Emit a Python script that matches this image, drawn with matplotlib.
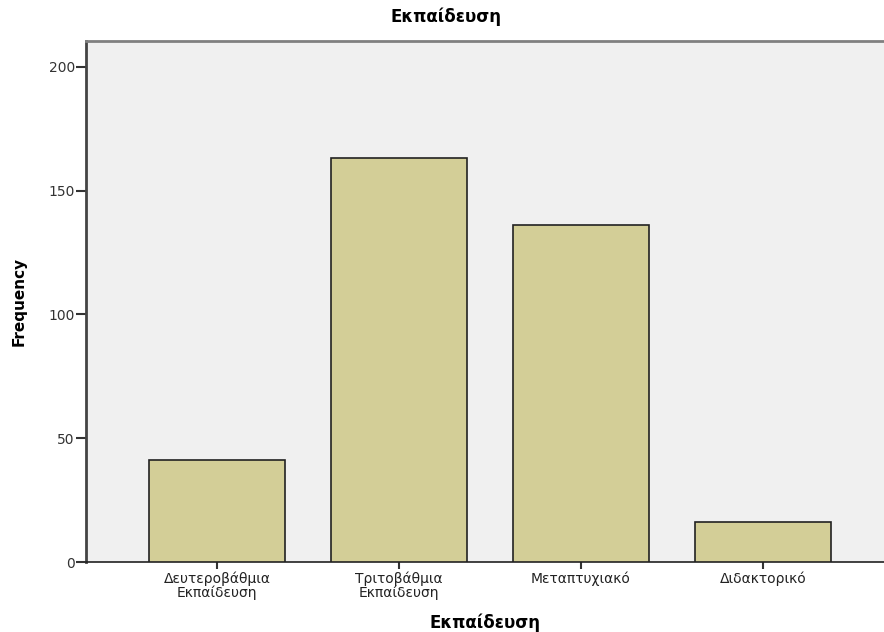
import matplotlib
matplotlib.use('Agg')

import numpy as np
import matplotlib.pyplot as plt

# data
categories = ['Δευτεροβάθμια\nΕκπαίδευση', 'Τριτοβάθμια\nΕκπαίδευση', 'Μεταπτυχιακό', 'Διδακτορικό']
frequency = [41, 163, 136, 16]
yticks = [0, 50, 100, 150, 200]

plt.rcParams['font.family'] = ['DejaVu Sans']

fig = plt.figure(figsize=(8.84, 6.32), dpi=100, facecolor='w')
ax = fig.add_axes([86/884, 1-562/632, 1-86/884, (562-41)/632])
ax.set_facecolor('#f0f0f0')

x = np.arange(len(categories))
ax.bar(x, frequency, width=0.747, color='#d3ce97', edgecolor='#222222', linewidth=1.2, zorder=3)

ax.set_xlim(-0.72, 3.665)
ax.set_ylim(0, 210.4)
ax.set_yticks(yticks)
ax.set_xticks(x)
ax.set_xticklabels(categories, fontsize=10, color='#222222', linespacing=0.9)
ax.tick_params(axis='y', length=7, width=1.5, color='#333333', labelsize=10, labelcolor='#333333', pad=1)
ax.tick_params(axis='x', length=5, width=1.5, color='#333333', pad=2)

ax.spines['right'].set_visible(False)
ax.spines['top'].set_color('#808080')
ax.spines['top'].set_linewidth(2)
ax.spines['left'].set_color('#444444')
ax.spines['left'].set_linewidth(2)
ax.spines['bottom'].set_color('#222222')
ax.spines['bottom'].set_linewidth(1.2)

ax.set_xlabel('Εκπαίδευση', fontsize=12, fontweight='bold', labelpad=10)
ax.set_ylabel('Frequency', fontsize=11, fontweight='bold', labelpad=16)
fig.text(446/884, 1-17/632, 'Εκπαίδευση', fontsize=12, fontweight='bold', ha='center', va='center')

plt.savefig('out.png', dpi=100)
